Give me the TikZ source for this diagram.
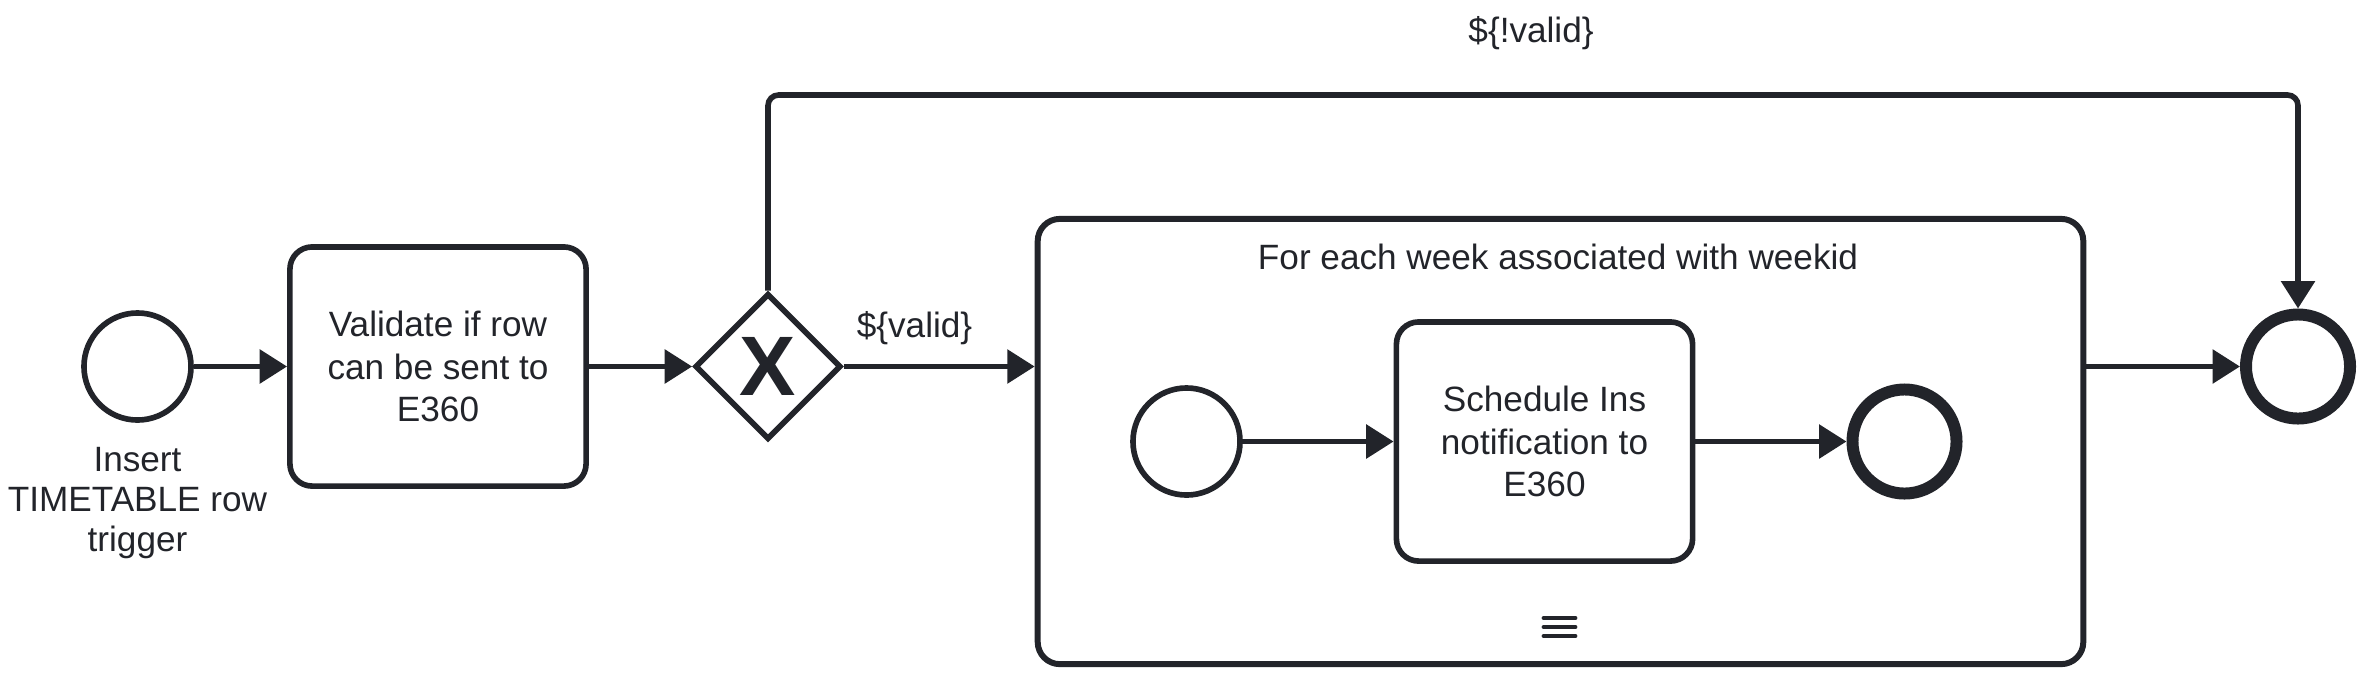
\documentclass[tikz,border=0pt]{standalone}
\usepackage{fontspec}
\setmainfont{Liberation Sans}
\usetikzlibrary{shapes.geometric,arrows.meta}
\definecolor{ink}{RGB}{34,36,42}
\begin{document}
\begin{tikzpicture}[x=0.01cm,y=-0.01cm,
  every node/.style={text=ink},
  evstart/.style={circle,draw=ink,line width=1.6pt,minimum size=1.07cm,inner sep=0pt,fill=white},
  evend/.style={circle,draw=ink,line width=3.4pt,minimum size=1.04cm,inner sep=0pt,fill=white},
  taskbox/.style={rectangle,draw=ink,line width=1.6pt,rounded corners=6.3pt,minimum width=2.96cm,minimum height=2.39cm,align=center,inner sep=2pt,font=\fontsize{10}{12.2}\selectfont,fill=white},
  gate/.style={diamond,draw=ink,line width=1.6pt,minimum width=1.46cm,minimum height=1.46cm,inner sep=0pt,aspect=1,font=\fontsize{24}{24}\selectfont\bfseries},
  flow/.style={draw=ink,line width=1.6pt,-{Triangle[length=7.8pt,width=9.4pt]}},
  lbl/.style={font=\fontsize{10}{11.5}\selectfont,align=center,inner sep=0pt}
]
\useasboundingbox (0,0) rectangle (2370,681);

% subprocess
\node[rectangle,draw=ink,line width=1.7pt,rounded corners=6.3pt,minimum width=10.45cm,minimum height=4.45cm,inner sep=0pt] (sub) at (1560.5,441.5) {};
\node[lbl] (subtitle) at (1558,257) {For each week associated with weekid};
\draw[ink,line width=1.4pt,line cap=round] (1544,618) -- (1575,618);
\draw[ink,line width=1.4pt,line cap=round] (1544,627) -- (1575,627);
\draw[ink,line width=1.4pt,line cap=round] (1544,636) -- (1575,636);

% main flow
\node[evstart] (start) at (137.5,366.5) {};
\node[lbl] (startlbl) at (137.5,503) {Insert\\TIMETABLE row\\trigger};
\node[taskbox] (validate) at (438,366.5) {Validate if row\\can be sent to\\E360};
\node[gate] (gw) at (768,366.5) {X};
\node[evend] (end) at (2298,366.5) {};

% inner flow
\node[evstart] (istart) at (1186.5,441.5) {};
\node[taskbox] (itask) at (1544.5,441.5) {Schedule Ins\\notification to\\E360};
\node[evend] (iend) at (1904.5,441.5) {};

\coordinate (topl) at (768,95);
\coordinate (topr) at (2298,95);

\draw[flow] (start) -- (validate);
\draw[flow] (validate) -- (gw);
\draw[flow] (gw.east) -- (gw.east -| sub.west);
\node[lbl] (validlbl) at (914.5,328) {\$\{valid\}};
\draw[flow] (end.west -| sub.east) -- (end.west);
\draw[flow,rounded corners=3pt] (gw.north) -- (topl) -- (topr) -- (end.north);
\node[lbl] (notvalidlbl) at (1531,33) {\$\{!valid\}};
\draw[flow] (istart) -- (itask);
\draw[flow] (itask) -- (iend);
\end{tikzpicture}
\end{document}
